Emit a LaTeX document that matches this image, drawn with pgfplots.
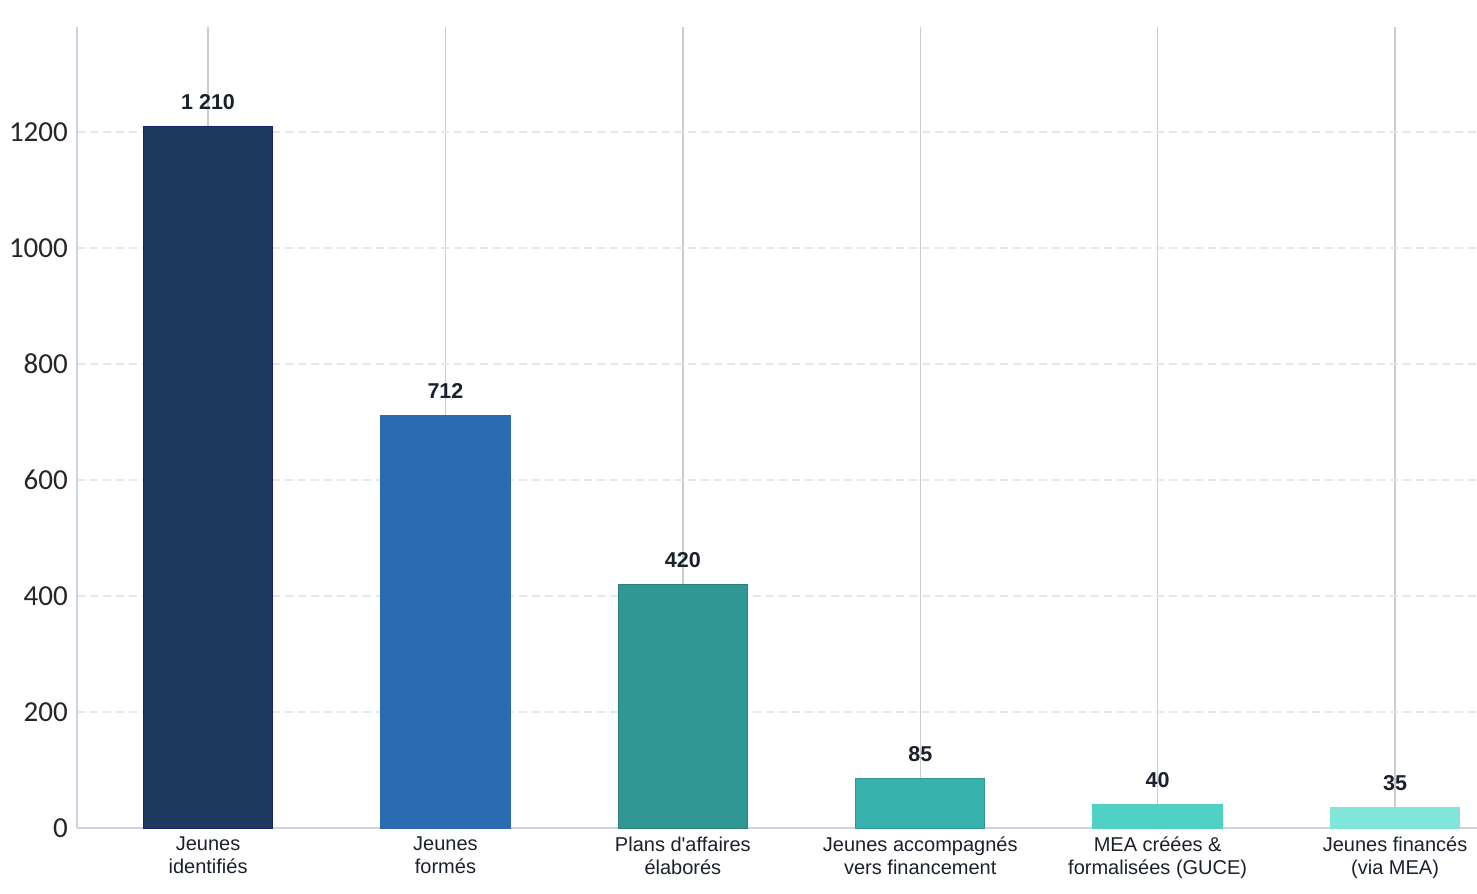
\documentclass[border=0pt]{standalone}
\usepackage{pgfplots}
\pgfplotsset{compat=1.18}
\usepackage{fontspec}
\setmainfont{Liberation Sans}
\newfontfamily\tickfont{Carlito}
\definecolor{c1}{HTML}{1E3A5F}
\definecolor{c2}{HTML}{2B6CB0}
\definecolor{c3}{HTML}{319795}
\definecolor{c4}{HTML}{38B2AC}
\definecolor{c5}{HTML}{4FD1C5}
\definecolor{c6}{HTML}{81E6D9}
\definecolor{txt}{HTML}{1A202C}
\definecolor{axl}{HTML}{CBD5E0}
\definecolor{ygrid}{HTML}{E2E8F0}
\begin{document}
\begin{tikzpicture}
\path[use as bounding box] (-77bp,-66bp) rectangle (1400bp,828bp);
\begin{axis}[
  at={(0,0)}, anchor=south west,
  scale only axis, width=1400bp, height=801bp,
  xmin=-0.552, xmax=5.345, ymin=0, ymax=1381,
  ybar, bar width=0.545,
  xtick={0,1,2,3,4,5},
  xticklabels={Jeunes\\identifiés, Jeunes\\formés, Plans d\textquotesingle affaires\\élaborés, Jeunes accompagnés\\vers financement, MEA créées \&\\formalisées (GUCE), Jeunes financés\\(via MEA)},
  xticklabel style={align=center, font=\fontsize{20bp}{22.5bp}\selectfont, text=txt, inner sep=0pt, yshift=-9bp},
  ytick={0,200,400,600,800,1000,1200},
  yticklabel style={font=\fontsize{29bp}{30bp}\selectfont\tickfont, text=black!85, inner sep=0pt, xshift=-9bp},
  /pgf/number format/assume math mode=true,
  /pgf/number format/1000 sep={},
  major tick length=0pt,
  axis x line*=bottom, axis y line*=left,
  axis line style={axl, line width=1.8bp},
  xmajorgrids, ymajorgrids,
  major x grid style={draw=black!20, line width=1.3bp, solid},
  major y grid style={draw=ygrid, line width=1.2bp, dash pattern=on 8bp off 5bp},
  nodes near coords,
  point meta=explicit symbolic,
  every node near coord/.style={font=\fontsize{21.5bp}{24bp}\selectfont\bfseries, text=txt, anchor=base, inner sep=0pt, yshift=17bp},
]
\addplot[bar shift=0pt, fill=c1, draw=black!50!blue!40!c1, line width=1bp] coordinates {(0,1210) [1 210]};
\addplot[bar shift=0pt, fill=c2, draw=c2, line width=1bp] coordinates {(1,712) [712]};
\addplot[bar shift=0pt, fill=c3, draw=c3!85!black, line width=1bp] coordinates {(2,420) [420]};
\addplot[bar shift=0pt, fill=c4, draw=c4!85!black, line width=1bp] coordinates {(3,85) [85]};
\addplot[bar shift=0pt, fill=c5, draw=c5, line width=1bp] coordinates {(4,40) [40]};
\addplot[bar shift=0pt, fill=c6, draw=c6, line width=1bp] coordinates {(5,35) [35]};
\end{axis}
\end{tikzpicture}
\end{document}
